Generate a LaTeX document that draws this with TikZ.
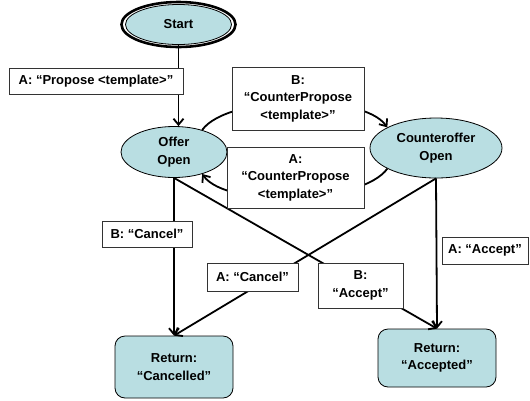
\documentclass[tikz,border=0pt]{standalone}
\usepackage{fontspec}
\setmainfont{Liberation Sans}
\usetikzlibrary{arrows.meta,shapes.geometric,calc}
\definecolor{stfill}{RGB}{185,222,226}
\begin{document}
\begin{tikzpicture}[x=1pt,y=-1pt,
  every node/.style={font=\fontsize{13}{17.5}\selectfont\bfseries, align=center, inner sep=0pt},
  state/.style={ellipse, draw=black, line width=0.8pt, fill=stfill},
  result/.style={rectangle, rounded corners=10pt, draw=black, line width=0.8pt, fill=stfill},
  lbl/.style={rectangle, draw=black!80, line width=0.7pt, fill=white},
  arr/.style={line width=1.8pt, -{Straight Barb[length=6pt,width=10pt]}},
  ln/.style={line width=1.8pt}]
\useasboundingbox (0,0) rectangle (530,400);
% states
\draw[line width=2.6pt] (178.5,24.5) ellipse [x radius=57, y radius=22.5];
\node[state, minimum width=106pt, minimum height=40pt] (Start) at (178.5,24.5) {Start};
\node[state, minimum width=106pt, minimum height=51pt] (Offer) at (174,152) {Offer\\Open};
\node[state, minimum width=132pt, minimum height=60pt] (Counter) at (436,148) {Counteroffer\\Open};
\node[result, minimum width=118pt, minimum height=62pt] (Cancelled) at (174,367) {Return:\\“Cancelled”};
\node[result, minimum width=118pt, minimum height=58pt] (Accepted) at (437,358) {Return:\\“Accepted”};
% connectors
\draw[arr] (Start.south) -- (Start.south |- Offer.north);
\draw[arr] (Offer.38) .. controls +(25,-35) and +(-25,-35) .. (Counter.157);
\draw[arr] (Counter.203) .. controls +(-25,35) and +(25,35) .. (Offer.-38);
\draw[arr] (Offer.south) -- (Cancelled.north);
\draw[arr] (Offer.south) -- (Accepted.north);
\draw[arr] (Counter.south) -- (Cancelled.north);
\draw[arr] (Counter.south) -- (Accepted.north);
% labels
\node[lbl, minimum width=174pt, minimum height=26pt] (lPropose) at (96,81) {A: “Propose <template>”};
\node[lbl, minimum width=132pt, minimum height=63pt] (lBCP) at (298,98.5) {B:\\“CounterPropose\\<template>”};
\node[lbl, minimum width=137pt, minimum height=61pt] (lACP) at (295.5,177.5) {A:\\“CounterPropose\\<template>”};
\node[lbl, minimum width=90pt, minimum height=26pt] (lBCancel) at (147,234) {B: “Cancel”};
\node[lbl, minimum width=91pt, minimum height=28pt] (lACancel) at (252.5,277) {A: “Cancel”};
\node[lbl, minimum width=85pt, minimum height=45pt] (lBAccept) at (360.5,285.5) {B:\\“Accept”};
\node[lbl, minimum width=86pt, minimum height=27pt] (lAAccept) at (485,250.5) {A: “Accept”};
\end{tikzpicture}
\end{document}
